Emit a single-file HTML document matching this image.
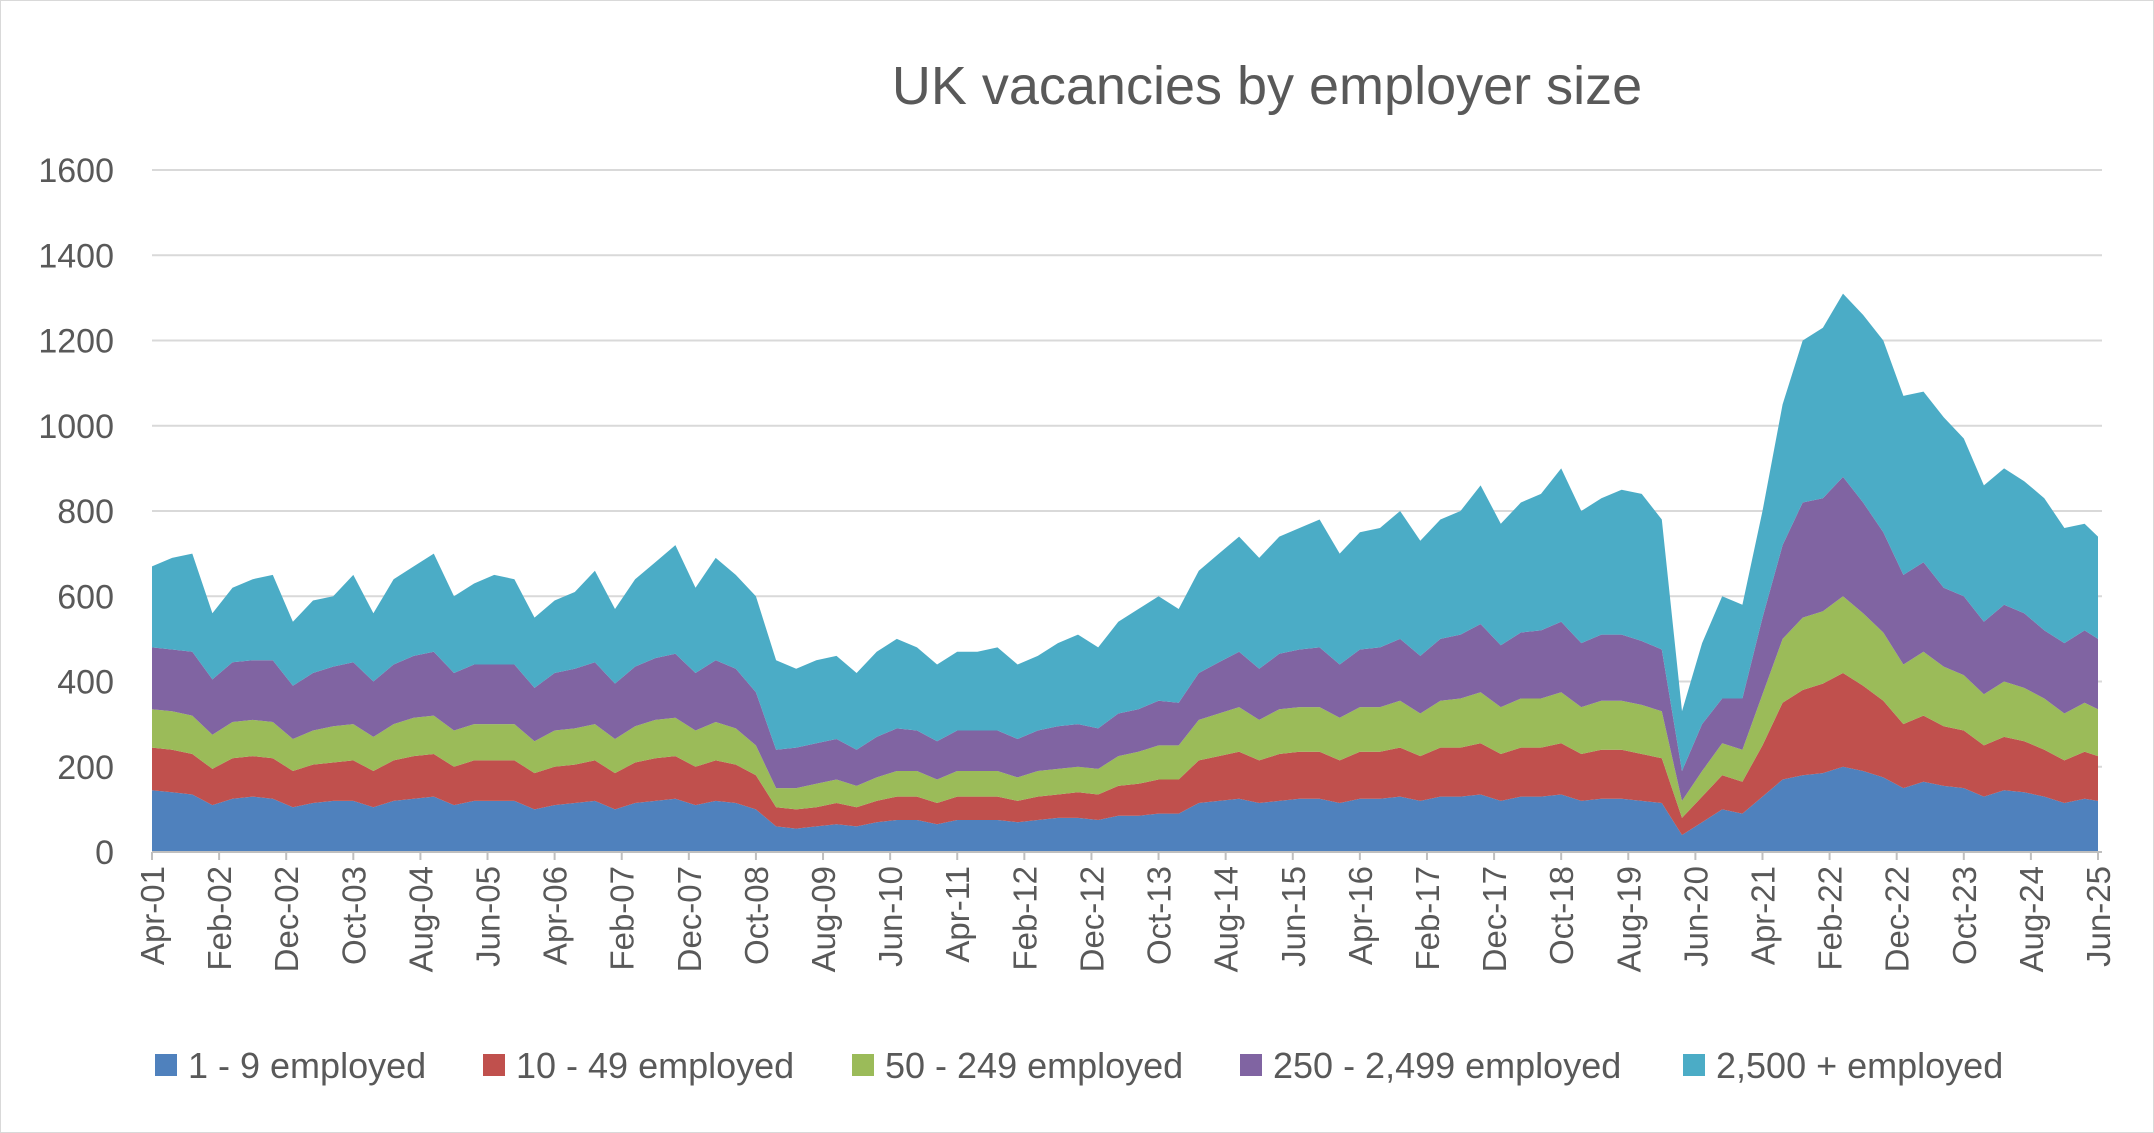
<!DOCTYPE html>
<html><head><meta charset="utf-8"><style>
html,body{margin:0;padding:0;background:#fff;}
svg{display:block;font-family:"Liberation Sans",sans-serif;}
</style></head><body>
<svg id="chart" width="2154" height="1133" viewBox="0 0 2154 1133" xmlns="http://www.w3.org/2000/svg">
<rect x="0.5" y="0.5" width="2153" height="1132" fill="#fff" stroke="#d9d9d9"/>
<text x="1267" y="104" text-anchor="middle" font-size="54" fill="#595959">UK vacancies by employer size</text>
<g id="grid"></g>
<g id="areas"></g>
<g id="yaxis"></g>
<g id="xaxis"></g>
<g id="legend"></g>
</svg>
<script>
const categories=["Apr-01","Jul-01","Oct-01",
"Jan-02","Apr-02","Jul-02","Oct-02","Jan-03","Apr-03","Jul-03","Oct-03","Jan-04","Apr-04","Jul-04","Oct-04",
"Jan-05","Apr-05","Jul-05","Oct-05","Jan-06","Apr-06","Jul-06","Oct-06","Jan-07","Apr-07","Jul-07","Oct-07",
"Jan-08","Apr-08","Jul-08","Oct-08","Jan-09","Apr-09","Jul-09","Oct-09","Jan-10","Apr-10","Jul-10","Oct-10",
"Jan-11","Apr-11","Jul-11","Oct-11","Jan-12","Apr-12","Jul-12","Oct-12","Jan-13","Apr-13","Jul-13","Oct-13",
"Jan-14","Apr-14","Jul-14","Oct-14","Jan-15","Apr-15","Jul-15","Oct-15","Jan-16","Apr-16","Jul-16","Oct-16",
"Jan-17","Apr-17","Jul-17","Oct-17","Jan-18","Apr-18","Jul-18","Oct-18","Jan-19","Apr-19","Jul-19","Oct-19",
"Jan-20","Apr-20","Jul-20","Oct-20","Jan-21","Apr-21","Jul-21","Oct-21","Jan-22","Apr-22","Jul-22","Oct-22",
"Jan-23","Apr-23","Jul-23","Oct-23","Jan-24","Apr-24","Jul-24","Oct-24","Jan-25","Apr-25","Jun-25"];
const s1=[145,140,135, 110,125,130,125, 105,115,120,120, 105,120,125,130, 110,120,120,120, 100,110,115,120, 100,115,120,125, 110,120,115,100, 60,55,60,65, 60,70,75,75, 65,75,75,75, 70,75,80,80, 75,85,85,90, 90,115,120,125, 115,120,125,125, 115,125,125,130, 120,130,130,135, 120,130,130,135, 120,125,125,120, 115,40,70,100, 90,130,170,180, 185,200,190,175, 150,165,155,150, 130,145,140,130, 115,125,120];
const s2=[100,100,95, 85,95,95,95, 85,90,90,95, 85,95,100,100, 90,95,95,95, 85,90,90,95, 85,95,100,100, 90,95,90,80, 45,45,45,50, 45,50,55,55, 50,55,55,55, 50,55,55,60, 60,70,75,80, 80,100,105,110, 100,110,110,110, 100,110,110,115, 105,115,115,120, 110,115,115,120, 110,115,115,110, 105,40,60,80, 75,120,180,200, 210,220,200,180, 150,155,140,135, 120,125,120,110, 100,110,105];
const s3=[90,90,90, 80,85,85,85, 75,80,85,85, 80,85,90,90, 85,85,85,85, 75,85,85,85, 80,85,90,90, 85,90,85,70, 45,50,55,55, 50,55,60,60, 55,60,60,60, 55,60,60,60, 60,70,75,80, 80,95,100,105, 95,105,105,105, 100,105,105,110, 100,110,115,120, 110,115,115,120, 110,115,115,115, 110,40,60,75, 75,120,150,170, 170,180,170,160, 140,150,140,130, 120,130,125,120, 110,115,110];
const s4=[145,145,150, 130,140,140,145, 125,135,140,145, 130,140,145,150, 135,140,140,140, 125,135,140,145, 130,140,145,150, 135,145,140,125, 90,95,95,95, 85,95,100,95, 90,95,95,95, 90,95,100,100, 95,100,100,105, 100,110,120,130, 120,130,135,140, 125,135,140,145, 135,145,150,160, 145,155,160,165, 150,155,155,150, 145,70,110,105, 120,180,220,270, 265,280,260,235, 210,210,185,185, 170,180,175,160, 165,170,165];
const s5=[190,215,230, 155,175,190,200, 150,170,165,205, 160,200,210,230, 180,190,210,200, 165,170,180,215, 175,205,225,255, 200,240,220,225, 210,185,195,195, 180,200,210,195, 180,185,185,195, 175,175,195,210, 190,215,235,245, 220,240,255,270, 260,275,285,300, 260,275,280,300, 270,280,290,325, 285,305,320,360, 310,320,340,345, 305,140,190,240, 220,250,330,380, 400,430,440,450, 420,400,400,370, 320,320,310,310, 270,250,240];
const seriesNames=["1 - 9 employed","10 - 49 employed","50 - 249 employed","250 - 2,499 employed","2,500 + employed"];
const colors=["#4F81BD","#C0504D","#9BBB59","#8064A2","#4BACC6"];
const yTicks=[0,200,400,600,800,1000,1200,1400,1600];
const xTickLabels=["Apr-01","Feb-02","Dec-02","Oct-03","Aug-04","Jun-05","Apr-06","Feb-07","Dec-07","Oct-08","Aug-09","Jun-10","Apr-11","Feb-12","Dec-12","Oct-13","Aug-14","Jun-15","Apr-16","Feb-17","Dec-17","Oct-18","Aug-19","Jun-20","Apr-21","Feb-22","Dec-22","Oct-23","Aug-24","Jun-25"];

const NS="http://www.w3.org/2000/svg";
const MON={Jan:0,Feb:1,Mar:2,Apr:3,May:4,Jun:5,Jul:6,Aug:7,Sep:8,Oct:9,Nov:10,Dec:11};
function monthIndex(l){const p=l.split('-');return (parseInt(p[1],10)-1)*12+MON[p[0]]-3;}
const X0=152,X1=2098,M0=0,M1=monthIndex("Jun-25");
const Y0=852,Y1=170;
function xs(m){return X0+(m-M0)/(M1-M0)*(X1-X0);}
function ys(v){return Y0-v/1600*(Y0-Y1);}
function mk(t,a,parent){const e=document.createElementNS(NS,t);for(const k in a)e.setAttribute(k,a[k]);parent.appendChild(e);return e;}

const grid=document.getElementById('grid');
yTicks.forEach(v=>{if(v===0)return;const l=mk('line',{x1:X0,x2:2102,y1:ys(v),y2:ys(v),stroke:'#d9d9d9','stroke-width':2},grid);

});

const series=[s1,s2,s3,s4,s5];
const areas=document.getElementById('areas');
let base=categories.map(()=>0);
series.forEach((s,i)=>{
  const top=s.map((v,j)=>base[j]+v);
  let d='';
  categories.forEach((c,j)=>{d+=(j?'L':'M')+xs(monthIndex(c)).toFixed(1)+','+ys(top[j]).toFixed(1);});
  for(let j=categories.length-1;j>=0;j--){d+='L'+xs(monthIndex(categories[j])).toFixed(1)+','+ys(base[j]).toFixed(1);}
  d+='Z';
  const p=mk('path',{d:d,fill:colors[i]},areas);
  
  
  base=top;
});

const yaxis=document.getElementById('yaxis');
yTicks.forEach(v=>{const t=mk('text',{x:114,y:ys(v)+12,'text-anchor':'end','font-size':34,fill:'#595959'},yaxis);t.textContent=v;

});

const xaxis=document.getElementById('xaxis');
const ax=mk('line',{x1:X0,x2:2102,y1:Y0,y2:Y0,stroke:'#bfbfbf','stroke-width':2},xaxis);


xTickLabels.forEach(l=>{const x=xs(monthIndex(l));
  const tk=mk('line',{x1:x,x2:x,y1:Y0,y2:Y0+8,stroke:'#bfbfbf','stroke-width':2},xaxis);
  
  
  const t=mk('text',{x:0,y:0,'text-anchor':'end','font-size':33,fill:'#595959',transform:`translate(${x+12},${Y0+14}) rotate(-90)`},xaxis);
  t.textContent=l;
  
  });

const legend=document.getElementById('legend');
const lx=[155,483,852,1240,1683];
seriesNames.forEach((n,i)=>{
  const g=mk('g',{},legend);
  
  
  mk('rect',{x:lx[i],y:1054,width:22,height:22,fill:colors[i]},g);
  const t=mk('text',{x:lx[i]+33,y:1078,'font-size':36,fill:'#595959'},g);t.textContent=n;
});
</script>
</body></html>
